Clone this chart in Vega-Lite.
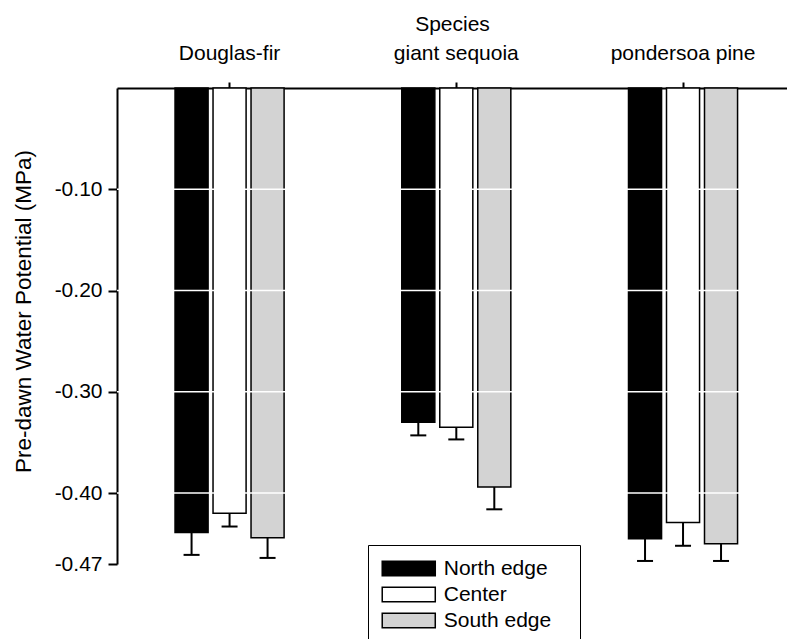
{
  "$schema": "https://vega.github.io/schema/vega-lite/v6.json",
  "autosize": {"type": "none"},
  "padding": {"left": 117, "top": 88, "right": 0, "bottom": 75},
  "width": 670,
  "height": 476,
  "background": "white",
  "config": {
    "font": "Liberation Sans",
    "view": {"stroke": null},
    "axis": {"labelFont": "Liberation Sans", "titleFont": "Liberation Sans", "labelColor": "black", "titleColor": "black", "titleFontWeight": "normal", "domainColor": "black", "tickColor": "black", "zindex": 1}
  },
  "datasets": {
    "bars": [
      {"species": "Douglas-fir", "site": "North edge", "value": -0.439, "low": -0.461},
      {"species": "Douglas-fir", "site": "Center", "value": -0.420, "low": -0.433},
      {"species": "Douglas-fir", "site": "South edge", "value": -0.444, "low": -0.464},
      {"species": "giant sequoia", "site": "North edge", "value": -0.330, "low": -0.343},
      {"species": "giant sequoia", "site": "Center", "value": -0.335, "low": -0.347},
      {"species": "giant sequoia", "site": "South edge", "value": -0.394, "low": -0.416},
      {"species": "pondersoa pine", "site": "North edge", "value": -0.445, "low": -0.467},
      {"species": "pondersoa pine", "site": "Center", "value": -0.429, "low": -0.452},
      {"species": "pondersoa pine", "site": "South edge", "value": -0.450, "low": -0.467}
    ],
    "grid": [{"g": -0.1}, {"g": -0.2}, {"g": -0.3}, {"g": -0.4}]
  },
  "layer": [
    {
      "data": {"name": "bars"},
      "mark": {"type": "bar", "stroke": "black", "strokeWidth": 1.5},
      "encoding": {
        "x": {
          "field": "species", "type": "nominal", "sort": null,
          "scale": {"paddingInner": 0.519, "paddingOuter": 0.237, "align": 0.54},
          "axis": {"orient": "top", "title": "Species", "titleFontSize": 21, "labelFontSize": 21, "labelAngle": 0, "domainWidth": 2, "tickWidth": 2, "tickSize": 6, "labelPadding": 19, "titlePadding": 8}
        },
        "xOffset": {"field": "site", "type": "nominal", "sort": ["North edge", "Center", "South edge"], "scale": {"paddingInner": 0.13, "paddingOuter": 0}},
        "y": {
          "field": "value", "type": "quantitative",
          "scale": {"domain": [-0.47, 0], "nice": false},
          "axis": {"title": "Pre-dawn Water Potential (MPa)", "titleFontSize": 22.5, "labelFontSize": 21, "values": [-0.1, -0.2, -0.3, -0.4, -0.47], "format": ".2f", "labelExpr": "replace(datum.label, '\u2212', '-')", "grid": false, "domainWidth": 2, "tickWidth": 2, "tickSize": 9, "labelPadding": 6, "titleX": -94, "titleY": 223, "titleBaseline": "middle"}
        },
        "color": {
          "field": "site", "type": "nominal",
          "scale": {"domain": ["North edge", "Center", "South edge"], "range": ["#000000", "#ffffff", "#d3d3d3"]},
          "legend": {
            "title": null, "orient": "none", "legendX": 251, "legendY": 457,
            "strokeColor": "black", "padding": 13, "fillColor": "white",
            "symbolType": "M-3.12,-0.84L3.12,-0.84L3.12,0.84L-3.12,0.84Z", "symbolSize": 289,
            "symbolOffset": 17.25,
            "symbolStrokeColor": "black", "symbolStrokeWidth": 1.5, "symbolOpacity": 1,
            "labelFont": "Liberation Sans", "labelFontSize": 21, "labelColor": "black",
            "labelOffset": 24.5, "rowPadding": 4,
            "labelExpr": "datum.label + '\u2800'"
          }
        }
      }
    },
    {
      "data": {"name": "grid"},
      "mark": {"type": "rule", "color": "white", "strokeWidth": 1.5},
      "encoding": {"y": {"field": "g", "type": "quantitative"}}
    },
    {
      "data": {"name": "bars"},
      "mark": {"type": "rule", "color": "black", "strokeWidth": 2},
      "encoding": {
        "x": {"field": "species", "type": "nominal", "sort": null},
        "xOffset": {"field": "site", "type": "nominal", "sort": ["North edge", "Center", "South edge"]},
        "y": {"field": "value", "type": "quantitative"},
        "y2": {"field": "low"}
      }
    },
    {
      "data": {"name": "bars"},
      "mark": {"type": "tick", "color": "black", "thickness": 2, "size": 16, "orient": "horizontal", "opacity": 1},
      "encoding": {
        "x": {"field": "species", "type": "nominal", "sort": null},
        "xOffset": {"field": "site", "type": "nominal", "sort": ["North edge", "Center", "South edge"]},
        "y": {"field": "low", "type": "quantitative"}
      }
    }
  ]
}
